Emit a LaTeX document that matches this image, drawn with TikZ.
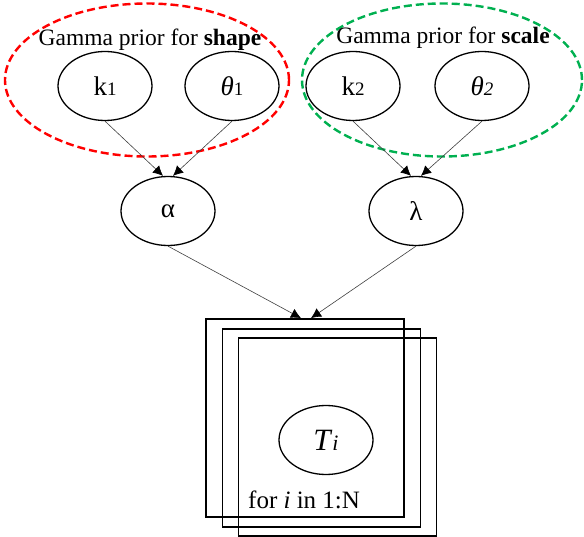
\documentclass[tikz,border=0pt]{standalone}
\usepackage{fontspec}
\setmainfont{Liberation Serif}
\usetikzlibrary{arrows.meta,shapes.geometric}
\definecolor{pred}{RGB}{255,0,0}
\definecolor{pgreen}{RGB}{0,176,80}
\tikzset{
  var/.style={draw, ellipse, line width=1.3pt, minimum width=94pt, minimum height=69pt, inner sep=0pt, font=\fontsize{27}{27}\selectfont},
  grp/.style={draw, ellipse, dashed, dash pattern=on 8pt off 4pt, line width=2.4pt, inner sep=0pt},
  edge/.style={line width=0.6pt, draw=black!75, -{Latex[length=10pt,width=10pt,fill=black,color=black]}},
  platebox/.style={draw, line width=1.8pt, minimum width=198pt, minimum height=198pt, inner sep=0pt},
  lbl/.style={font=\fontsize{23.5}{24}\selectfont, inner sep=0pt}
}
\begin{document}
\begin{tikzpicture}[x=1pt,y=-1pt]
\useasboundingbox (0,0) rectangle (584,537);
% group ellipses
\node[grp, draw=pred, minimum width=284pt, minimum height=153pt] (g1) at (147,80) {};
\node[grp, draw=pgreen, minimum width=280pt, minimum height=153pt] (g2) at (442,80) {};
\node[lbl] (t1) at (150,40) {Gamma prior for \textbf{shape}};
\node[lbl] (t2) at (443,38) {Gamma prior for \textbf{scale}};
% variables
\node[var] (k1) at (105,86) {k{\fontsize{19}{19}\selectfont 1}};
\node[var] (th1) at (232,86) {\textit{θ}{\fontsize{19}{19}\selectfont 1}};
\node[var] (k2) at (353,86) {k{\fontsize{19}{19}\selectfont 2}};
\node[var] (th2) at (482,86) {\textit{θ}{\fontsize{19}{19}\selectfont\itshape 2}};
\node[var, font=\fontsize{27}{27}\selectfont] (alpha) at (168,211) {α};
\node[var, font=\fontsize{27}{27}\selectfont] (lambda) at (416,211) {λ};
% plates
\node[platebox] (p1) at (305,418) {};
\node[platebox] (p2) at (321.5,428) {};
\node[platebox] (p3) at (337.5,437) {};
\node[var, font=\fontsize{31}{31}\selectfont] (Ti) at (326,440) {\textit{T}{\fontsize{22}{22}\selectfont\itshape i}};
\node[lbl, anchor=west, font=\fontsize{25}{25}\selectfont] (for) at (248,500) {for \textit{i} in 1:N};
% edges
\draw[edge] (k1.south) -- ([xshift=-5pt]alpha.north);
\draw[edge] (th1.south) -- ([xshift=5pt]alpha.north);
\draw[edge] (k2.south) -- ([xshift=-5pt]lambda.north);
\draw[edge] (th2.south) -- ([xshift=5pt]lambda.north);
\draw[edge] (alpha.south) -- ([xshift=-4pt]p1.north);
\draw[edge] (lambda.south) -- ([xshift=6pt]p1.north);
\end{tikzpicture}
\end{document}
